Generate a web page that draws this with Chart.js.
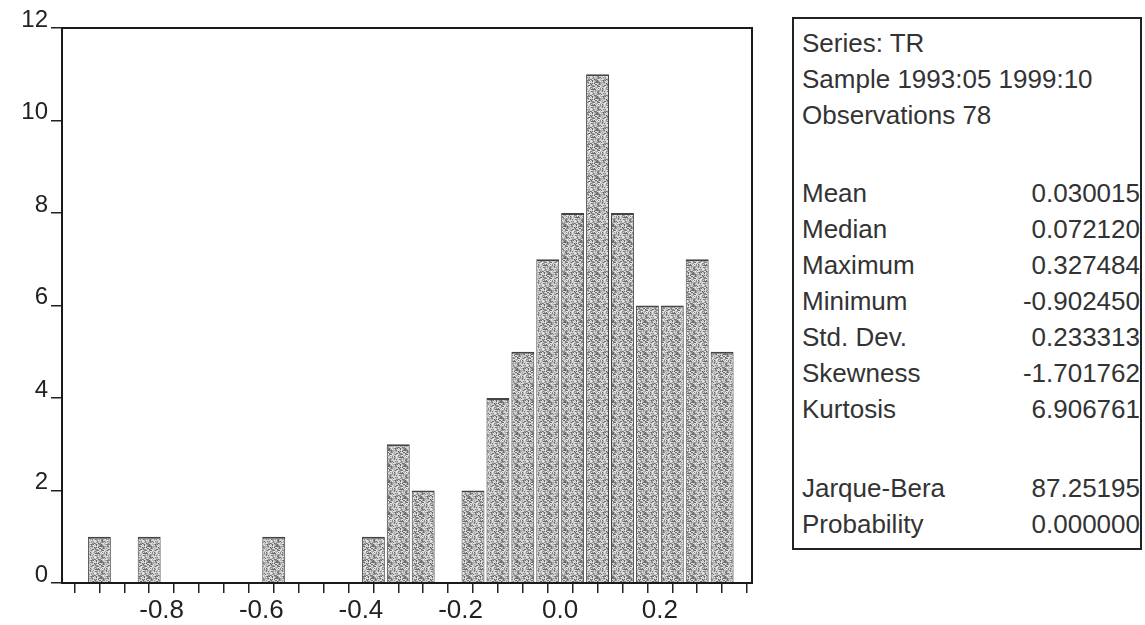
<!DOCTYPE html>
<html>
<head>
<meta charset="utf-8">
<title>Histogram TR</title>
<script src="https://cdn.jsdelivr.net/npm/chart.js@4.4.1/dist/chart.umd.min.js"></script>
<style>
    html, body { margin: 0; padding: 0; background: #fff; }
    #wrap { position: relative; width: 1145px; height: 625px; overflow: hidden; }
    #plot { position: absolute; left: 0; top: 0; width: 780px; height: 625px; }
    #stats {
        position: absolute; left: 792px; top: 17px; width: 350px; height: 533px;
        box-sizing: border-box; border: 2px solid #222;
        padding: 6px 0 0 8px;
        font-family: 'Liberation Sans', Arial, sans-serif; font-size: 26px; color: #333;
    }
    .row { height: 36px; line-height: 36px; display: flex; justify-content: space-between; white-space: nowrap; }
    .gap1 { height: 42px; }
    .gap2 { height: 43px; }
</style>
</head>
<body>
<div id="wrap">
    <div id="plot"><canvas id="histChart"></canvas></div>
    <div id="stats"></div>
</div>
<script>
/*******************************************************
 * DADOS
 *******************************************************/
const binCenters = [-0.925, -0.875, -0.825, -0.775, -0.725, -0.675, -0.625, -0.575, -0.525,
                    -0.475, -0.425, -0.375, -0.325, -0.275, -0.225, -0.175, -0.125, -0.075,
                    -0.025, 0.025, 0.075, 0.125, 0.175, 0.225, 0.275, 0.325];
const binCounts = [1, 0, 1, 0, 0, 0, 0, 1, 0,
                   0, 0, 1, 3, 2, 0, 2, 4, 5,
                   7, 8, 11, 8, 6, 6, 7, 5];
const binWidth = 0.05;

const xMajorTicks = [-0.8, -0.6, -0.4, -0.2, 0.0, 0.2];
const xTickLabels = ['-0.8', '-0.6', '-0.4', '-0.2', '0.0', '0.2'];
const yTicks = [0, 2, 4, 6, 8, 10, 12];

const seriesName = 'TR';
const sampleRange = '1993:05 1999:10';
const observations = 78;
const statLabels = ['Mean', 'Median', 'Maximum', 'Minimum', 'Std. Dev.', 'Skewness', 'Kurtosis'];
const statValues = ['0.030015', '0.072120', '0.327484', '-0.902450', '0.233313', '-1.701762', '6.906761'];
const testLabels = ['Jarque-Bera', 'Probability'];
const testValues = ['87.25195', '0.000000'];

// tick marks at the bin edges
const xTickMarks = binCenters.map(c => c - binWidth / 2).concat([binCenters[binCenters.length - 1] + binWidth / 2]);

/*******************************************************
 * QUADRO DE ESTATISTICAS
 *******************************************************/
function row(label, value) {
    return `<div class="row"><span>${label}</span><span>${value}</span></div>`;
}
const stats = document.getElementById('stats');
let html = row('Series: ' + seriesName, '') + row('Sample ' + sampleRange, '') + row('Observations ' + observations, '');
html += '<div class="gap1"></div>';
statLabels.forEach((l, i) => html += row(l, statValues[i]));
html += '<div class="gap2"></div>';
testLabels.forEach((l, i) => html += row(l, testValues[i]));
stats.innerHTML = html;

/*******************************************************
 * GRAFICO
 *******************************************************/
// stippled grey fill like the printed bars (fixed hash, no randomness)
function makePattern() {
    const n = 16;
    const c = document.createElement('canvas');
    c.width = n; c.height = n;
    const g = c.getContext('2d');
    const greys = ['#6a6a6a', '#888888', '#a4a4a4', '#bcbcbc', '#d2d2d2', '#e8e8e8'];
    for (let x = 0; x < n; x++) {
        for (let y = 0; y < n; y++) {
            let h = (x * 374761393 + y * 668265263) >>> 0;
            h = ((h ^ (h >>> 13)) * 1274126177) >>> 0;
            g.fillStyle = greys[(h >>> 8) % greys.length];
            g.fillRect(x, y, 1, 1);
        }
    }
    return g.createPattern(c, 'repeat');
}

const framePlugin = {
    id: 'frame',
    afterDraw(chart) {
        const a = chart.chartArea, ctx = chart.ctx;
        ctx.save();
        ctx.strokeStyle = '#1a1a1a';
        ctx.lineWidth = 2;
        ctx.strokeRect(a.left, a.top, a.right - a.left, a.bottom - a.top);
        ctx.restore();
    }
};

Chart.defaults.font.family = "'Liberation Sans', Arial, sans-serif";
Chart.defaults.color = '#222';

function init() {
    const ctx = document.getElementById('histChart');
    new Chart(ctx, {
        type: 'bar',
        data: {
            datasets: [{
                data: binCenters.map((c, i) => ({ x: c, y: binCounts[i] })),
                backgroundColor: makePattern(),
                borderColor: '#444',
                borderWidth: { top: 2, left: 1, right: 1, bottom: 0 },
                borderSkipped: 'bottom',
                barPercentage: 0.92,
                categoryPercentage: 1.0
            }]
        },
        options: {
            responsive: true,
            maintainAspectRatio: false,
            animation: false,
            layout: { padding: { top: 28, right: 28, left: 0, bottom: 0 } },
            plugins: { legend: { display: false }, tooltip: { enabled: false } },
            scales: {
                x: {
                    type: 'linear',
                    min: -1.0,
                    max: 0.385,
                    offset: false,
                    afterBuildTicks: s => { s.ticks = xTickMarks.map(v => ({ value: v })); },
                    afterFit: s => { s.height = 42; },
                    grid: { drawOnChartArea: false, drawTicks: true, tickLength: 10, color: '#222', lineWidth: 1.5 },
                    border: { display: false },
                    ticks: {
                        autoSkip: false,
                        maxRotation: 0,
                        padding: 2,
                        font: { size: 26 },
                        callback: v => {
                            const i = xMajorTicks.findIndex(m => Math.abs(m - v) < 1e-6);
                            return i >= 0 ? xTickLabels[i] : '';
                        }
                    }
                },
                y: {
                    min: 0,
                    max: 12,
                    afterBuildTicks: s => { s.ticks = yTicks.map(v => ({ value: v })); },
                    afterFit: s => { s.width = 62; },
                    grid: { drawOnChartArea: false, drawTicks: true, tickLength: 11, color: '#222', lineWidth: 1.5 },
                    border: { display: false },
                    ticks: { padding: 3, labelOffset: -8, font: { size: 24 } }
                }
            }
        },
        plugins: [framePlugin]
    });
}

window.onload = init;
</script>
</body>
</html>
